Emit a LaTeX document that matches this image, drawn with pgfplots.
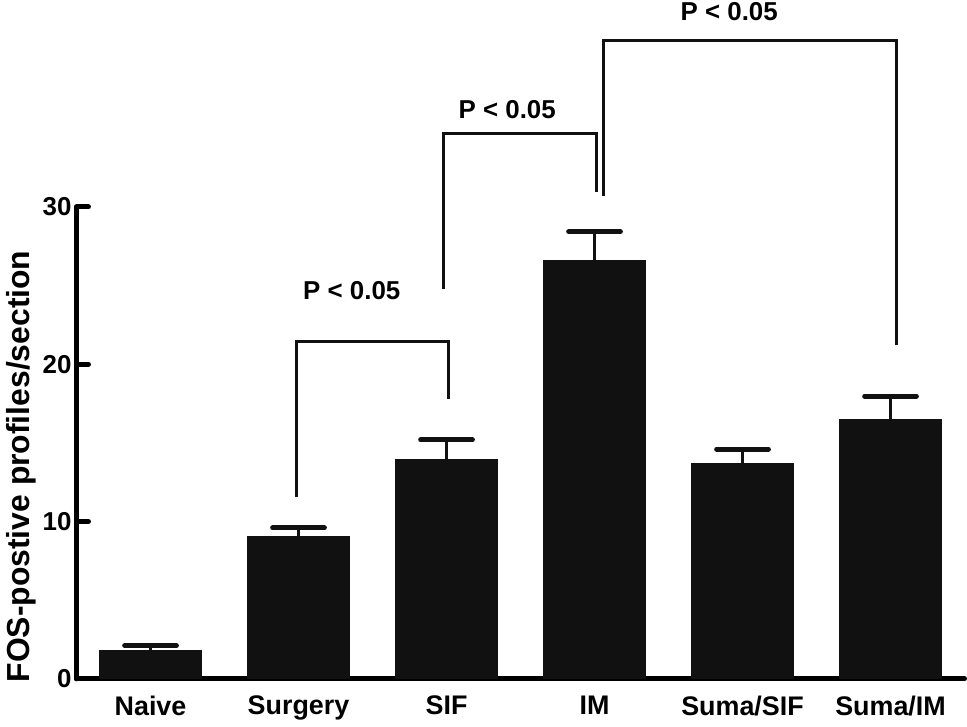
\documentclass[border=0pt]{standalone}
\usepackage{fontspec}
\setmainfont{Liberation Sans}
\usepackage{pgfplots}
\pgfplotsset{compat=1.18}
\definecolor{barblk}{HTML}{111111}
\begin{document}
\begin{tikzpicture}
\begin{axis}[
  scale only axis,
  width=446pt, height=237pt,
  xmin=-0.5, xmax=5.5,
  ymin=0, ymax=30,
  axis lines*=left,
  axis line style={line width=2.5pt, line cap=round},
  xtick={0,1,2,3,4,5},
  xticklabels={Naive,Surgery,SIF,IM,Suma/SIF,Suma/IM},
  x tick style={draw=none},
  ytick={0,10,20,30},
  tick align=inside,
  major tick length=6pt,
  y tick style={line width=2.5pt, black, line cap=round},
  /pgf/number format/assume math mode=true,
  tick label style={font=\fontsize{13}{15}\selectfont\bfseries},
  xticklabel style={yshift=-5pt, font=\fontsize{13.5}{15}\selectfont\bfseries},
  yticklabel style={xshift=1pt},
  ylabel={FOS-postive profiles/section},
  ylabel style={font=\fontsize{16}{18}\selectfont\bfseries, at={(axis description cs:-0.062,0.45)}, anchor=center},
  clip=false,
]
\addplot[ybar, bar width=51.5pt, fill=barblk, draw=barblk, line width=0.5pt,
  error bars/.cd, y dir=plus, y explicit,
  error bar style={line width=1.5pt, barblk},
  error mark options={rotate=90, mark size=13pt, line width=2.5pt, barblk, line cap=round}]
  coordinates {
  (0,1.79) +- (0,0.32)
  (1,9.03) +- (0,0.57)
  (2,13.92) +- (0,1.27)
  (3,26.6) +- (0,1.83)
  (4,13.7) +- (0,0.9)
  (5,16.5) +- (0,1.47)
  };
\draw[line width=1.5pt, barblk] (axis cs:0.984,11.54) -- (axis cs:0.984,21.46) -- (axis cs:2.01,21.46) -- (axis cs:2.01,17.77);
\draw[line width=1.5pt, barblk] (axis cs:1.98,24.8) -- (axis cs:1.98,34.66) -- (axis cs:3.01,34.66) -- (axis cs:3.01,30.97);
\draw[line width=1.5pt, barblk] (axis cs:3.06,30.7) -- (axis cs:3.06,40.57) -- (axis cs:5.04,40.57) -- (axis cs:5.04,21.2);
\node[font=\fontsize{13}{15}\selectfont\bfseries, inner sep=1pt] at (axis cs:1.36,24.7) {P < 0.05};
\node[font=\fontsize{13}{15}\selectfont\bfseries, inner sep=1pt] at (axis cs:2.41,36.2) {P < 0.05};
\node[font=\fontsize{13}{15}\selectfont\bfseries, inner sep=1pt] at (axis cs:3.91,42.45) {P < 0.05};
\end{axis}
\end{tikzpicture}
\end{document}
